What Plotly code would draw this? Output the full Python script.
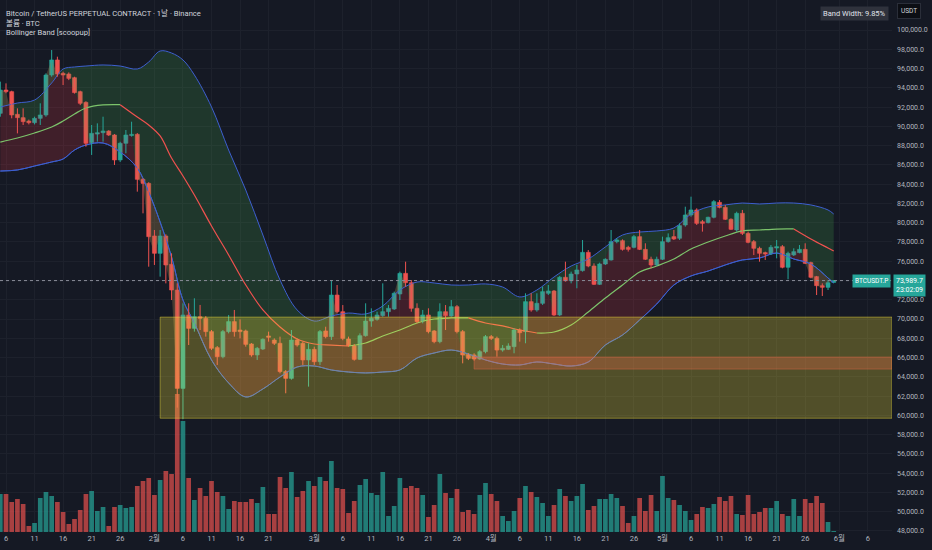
import pandas as pd
import plotly.graph_objects as go

# BTCUSDT.P 일봉, 2026-01-05 ~ 2026-05-31 (차트에서 눈으로 읽은 값)
dates = pd.date_range('2026-01-05', periods=147, freq='D')

opens = [91350, 93770, 93600, 91250, 90900, 90550, 90380, 90830, 91180, 95330,
         96890, 95500, 95430, 95050, 93600, 92490, 88300, 89200, 89340, 89510,
         89100, 86510, 88240, 89050, 89170, 84500, 84080, 78620, 76820, 78620,
         75680, 73010, 62800, 70420, 69030, 70240, 70070, 68690, 67030, 66090,
         68690, 69730, 68860, 68760, 67410, 66270, 66890, 68240, 67820, 67480,
         64540, 63840, 67820, 67480, 65750, 66850, 65570, 68760, 68170, 72490,
         70760, 67930, 67230, 65810, 68270, 69790, 69970, 70350, 70760, 71040,
         72600, 74740, 73770, 71110, 69790, 70420, 68760, 67650, 70760, 70310,
         71280, 68690, 66330, 66270, 65850, 66610, 68170, 67990, 66780, 66850,
         67130, 68860, 68690, 71800, 70940, 71630, 72670, 72910, 70420, 74330,
         73980, 74670, 75020, 76920, 75500, 73600, 75710, 76130, 78030, 78130,
         77440, 77440, 78550, 77230, 76200, 75610, 76200, 78030, 78550, 78380,
         79760, 80800, 81320, 80100, 80000, 80560, 82110, 81590, 80350, 79240,
         80970, 78890, 78030, 77340, 76890, 76750, 77370, 77510, 75370, 76650,
         76890, 77230, 75850, 74400, 73460, 73290, 73800]
highs = [94640, 94460, 93700, 91870, 91870, 90700, 91000, 92390, 95500, 97920,
         97230, 95670, 95600, 95150, 93700, 92600, 90140, 90310, 91000, 89600,
         89200, 88400, 89620, 90480, 89300, 84600, 84200, 79240, 79240, 78800,
         76820, 73700, 71630, 71630, 72150, 71460, 70300, 68860, 67200, 68860,
         70420, 70940, 69970, 68900, 67500, 67100, 67990, 68690, 67990, 68170,
         64700, 68860, 67990, 67650, 67480, 67130, 68860, 69200, 74050, 73530,
         71450, 68170, 67400, 68510, 71630, 71110, 70760, 73700, 71450, 72840,
         74920, 75950, 74050, 71630, 70940, 71110, 68860, 71630, 71450, 71970,
         71450, 68860, 66440, 66440, 66780, 68340, 68340, 68170, 67300, 67480,
         69030, 69030, 72670, 72670, 72670, 73360, 73530, 73010, 74470, 75950,
         74920, 75610, 78200, 77160, 75780, 75850, 76300, 79240, 78370, 78270,
         77600, 78720, 79240, 77860, 76470, 76470, 78550, 78890, 79240, 79930,
         81660, 82700, 81490, 80280, 80620, 82350, 82350, 81840, 80450, 81140,
         81320, 79070, 78200, 77510, 76990, 77680, 78200, 77680, 76990, 77340,
         77680, 77860, 75950, 74470, 73700, 74050, 74050]
lows = [91000, 93430, 90830, 89270, 90140, 90200, 90200, 90140, 91000, 95150,
        95150, 94290, 94800, 93400, 92200, 87890, 87030, 88410, 88410, 89000,
        85990, 86300, 87200, 88930, 83220, 80970, 75430, 75610, 74400, 73700,
        71970, 60800, 59600, 67300, 68690, 68860, 68170, 66780, 65230, 65920,
        68510, 68170, 67990, 67130, 66090, 65750, 66780, 67650, 67300, 64360,
        62290, 63700, 67130, 65230, 62980, 65230, 65230, 68000, 67820, 70590,
        67800, 67130, 65680, 65750, 68170, 69200, 69830, 70240, 70240, 70940,
        71970, 73360, 70760, 69550, 69550, 68510, 67480, 67480, 68860, 70240,
        68510, 65400, 65740, 65680, 65750, 66440, 67820, 66090, 66610, 66780,
        66440, 67650, 67480, 70760, 70760, 71460, 72490, 70310, 70310, 73880,
        73700, 73190, 74920, 75370, 73530, 73530, 75610, 76060, 77860, 77100,
        77000, 77340, 77160, 76130, 75260, 75500, 76130, 77930, 78200, 78200,
        79590, 80620, 79760, 79070, 79930, 80450, 81490, 80280, 79240, 79070,
        78720, 77860, 76640, 75950, 76130, 76650, 76300, 75260, 74120, 76540,
        76820, 75710, 74220, 72490, 72390, 73010, 73750]
closes = [93770, 93600, 91180, 90900, 90490, 90380, 90830, 91180, 95330, 96890,
          95430, 95330, 94980, 93500, 92390, 88240, 89270, 89340, 89510, 89100,
          86510, 88240, 89100, 89170, 84500, 84080, 78550, 76820, 78620, 75610,
          73010, 62800, 70420, 69030, 70240, 70070, 68690, 66960, 66090, 68690,
          69730, 68690, 68690, 67370, 66270, 66960, 67890, 68100, 67480, 64540,
          63840, 67820, 67300, 65750, 66850, 65570, 68690, 68170, 72490, 70760,
          67990, 67230, 65810, 68270, 69790, 70070, 70420, 70760, 71110, 72670,
          74740, 73770, 71110, 69730, 70420, 68690, 67650, 70760, 70350, 71280,
          68690, 66270, 65920, 65850, 66610, 68170, 67990, 66780, 66960, 67200,
          68860, 68580, 71800, 70940, 71630, 72840, 72910, 70420, 74330, 73980,
          74670, 75090, 76920, 75500, 73600, 75710, 76200, 78030, 78200, 77230,
          77230, 78550, 77230, 76200, 75610, 76200, 78030, 78440, 78310, 79690,
          80800, 81320, 79930, 79930, 80560, 82180, 81590, 80350, 79310, 80970,
          78890, 77960, 77340, 76820, 76750, 77440, 77510, 75370, 76820, 76990,
          77230, 75780, 74330, 73460, 73290, 73770, 73990]
# 거래량 (천 BTC)
volume_k = [38, 38, 30, 33, 28, 6, 9, 34, 40, 36,
            30, 20, 8, 13, 22, 38, 41, 21, 25, 6,
            25, 27, 24, 25, 46, 51, 54, 37, 52, 61,
            58, 138, 111, 54, 32, 44, 36, 51, 40, 36,
            23, 31, 30, 30, 33, 29, 45, 18, 18, 55,
            44, 60, 35, 41, 51, 46, 55, 51, 71, 44,
            43, 19, 31, 47, 53, 39, 37, 60, 16, 26,
            54, 44, 46, 44, 37, 15, 27, 58, 39, 34,
            43, 20, 22, 18, 37, 49, 38, 31, 16, 11,
            21, 34, 46, 40, 35, 29, 16, 27, 43, 36,
            31, 36, 48, 22, 26, 33, 33, 38, 34, 26,
            9, 16, 34, 21, 37, 21, 56, 34, 32, 27,
            21, 12, 18, 25, 24, 28, 35, 31, 36, 18,
            17, 37, 18, 20, 24, 24, 31, 18, 16, 33,
            16, 33, 29, 36, 29, 10, 1]

# 볼린저 밴드 (몇 일 간격으로 읽음, 첫 봉 기준 일수)
band_day = [0, 3, 6, 9, 11, 13, 15, 18, 21, 24, 26, 28, 30, 32, 34, 37, 40, 43, 46, 49,
            52, 55, 58, 61, 64, 67, 70, 73, 76, 79, 82, 85, 88, 91, 94, 97, 100, 103, 106,
            109, 112, 115, 118, 121, 124, 127, 130, 133, 136, 139, 142, 145, 146]
bb_upper = [92010, 92420, 92730, 94500, 95950, 96160, 96260, 96370, 96260, 95950,
            96680, 97820, 97610, 96890, 95330, 92010, 87540, 83390, 78720, 74050,
            70940, 69790, 70310, 70620, 70520, 71350, 73010, 73840, 73740, 73530,
            73530, 73640, 73320, 72290, 73010, 74360, 75500, 76230, 77480, 78720,
            79030, 79140, 79450, 80900, 81630, 81840, 82040, 81940, 82040, 82040,
            81840, 81320, 80900]
bb_basis = [88370, 88790, 89310, 89930, 90550, 91280, 91900, 92220, 92250, 90970,
            90140, 89000, 86710, 84850, 82870, 79660, 76650, 73530, 70940, 69170,
            67930, 67410, 67300, 67200, 67510, 68240, 68860, 69590, 70000, 70110,
            70120, 69590, 69280, 68860, 68550, 68650, 69380, 70730, 72180, 73530,
            74880, 75500, 76230, 77270, 77990, 78620, 79140, 79240, 79340, 79350,
            78310, 77370, 77060]
bb_lower = [85360, 85470, 85880, 86300, 86610, 87540, 88060, 88270, 87340, 85670,
            83180, 80070, 76440, 71970, 69590, 65750, 63360, 61910, 62740, 63980,
            65020, 65120, 64710, 64500, 64400, 64500, 64710, 65950, 66470, 66780,
            66370, 65750, 65330, 65230, 65540, 65330, 65120, 65540, 67300, 68340,
            69900, 71560, 73530, 74470, 74980, 75610, 76130, 76330, 76850, 76230,
            75710, 74260, 73740]

tick_dates = ['2026-01-06', '2026-01-11', '2026-01-16', '2026-01-21', '2026-01-26',
              '2026-02-01', '2026-02-06', '2026-02-11', '2026-02-16', '2026-02-21',
              '2026-03-01', '2026-03-06', '2026-03-11', '2026-03-16', '2026-03-21', '2026-03-26',
              '2026-04-01', '2026-04-06', '2026-04-11', '2026-04-16', '2026-04-21', '2026-04-26',
              '2026-05-01', '2026-05-06', '2026-05-11', '2026-05-16', '2026-05-21', '2026-05-26',
              '2026-06-01', '2026-06-06']
tick_text = ['6', '11', '16', '21', '26', '2월', '6', '11', '16', '21',
             '3월', '6', '11', '16', '21', '26', '4월', '6', '11', '16', '21', '26',
             '5월', '6', '11', '16', '21', '26', '6월', '6']
price_ticks = list(range(48000, 100001, 2000))

last_price = 73989.7

BG = '#151924'
UP = '#26a69a'
DOWN = '#ef5350'
GRID = '#1d212c'
BAND = '#3d5fd0'
FONT = 'Roboto, Noto Sans CJK KR, sans-serif'
DAY_MS = 86400000

band_x = dates[band_day]
is_up = [c >= o for o, c in zip(opens, closes)]

fig = go.Figure()

# volume on the hidden base axis
vol_colors = ['rgba(38,166,154,0.7)' if u else 'rgba(239,83,80,0.68)' for u in is_up]
fig.add_trace(go.Bar(x=dates, y=volume_k, marker_color=vol_colors, marker_line_width=0,
                     width=0.82 * DAY_MS, yaxis='y', hoverinfo='skip'))

# band fills: close -> lower (red), upper -> close (green)
fig.add_trace(go.Scatter(x=band_x, y=bb_lower, mode='lines', line=dict(color=BAND, width=1, shape='spline'),
                         yaxis='y2', hoverinfo='skip'))
fig.add_trace(go.Scatter(x=dates, y=closes, mode='lines', line=dict(width=0), fill='tonexty',
                         fillcolor='rgba(242,54,69,0.2)', yaxis='y2', hoverinfo='skip'))
fig.add_trace(go.Scatter(x=band_x, y=bb_upper, mode='lines', line=dict(color=BAND, width=1, shape='spline'),
                         fill='tonexty', fillcolor='rgba(76,175,80,0.2)', yaxis='y2', hoverinfo='skip'))
fig.add_trace(go.Scatter(x=band_x, y=bb_lower, mode='lines', line=dict(color=BAND, width=1, shape='spline'),
                         yaxis='y2', hoverinfo='skip'))

# basis line, green while rising / red while falling
runs = []
start = 0
for i in range(1, len(bb_basis) - 1):
    up_prev = bb_basis[i] >= bb_basis[i - 1]
    up_next = bb_basis[i + 1] >= bb_basis[i]
    if up_prev != up_next:
        runs.append((start, i, up_prev))
        start = i
runs.append((start, len(bb_basis) - 1, bb_basis[-1] >= bb_basis[-2]))
for s, e, up in runs:
    fig.add_trace(go.Scatter(x=band_x[s:e + 1], y=bb_basis[s:e + 1], mode='lines',
                             line=dict(color='#7cc46b' if up else '#f0514f', width=1.2, shape='spline'),
                             yaxis='y2', hoverinfo='skip'))

# candles: wicks + bodies
for flag, col in ((True, UP), (False, DOWN)):
    wx, wy = [], []
    bx, bbase, bh = [], [], []
    for d, o, h, l, c, u in zip(dates, opens, highs, lows, closes, is_up):
        if u != flag:
            continue
        wx += [d, d, None]
        wy += [l, h, None]
        bx.append(d)
        bbase.append(min(o, c))
        bh.append(abs(c - o))
    fig.add_trace(go.Scatter(x=wx, y=wy, mode='lines', line=dict(color=col, width=1),
                             yaxis='y2', hoverinfo='skip', connectgaps=False))
    fig.add_trace(go.Bar(x=bx, y=bh, base=bbase, width=0.7 * DAY_MS, marker_color=col,
                         marker_line=dict(color=col, width=0.6), yaxis='y2', hoverinfo='skip'))

x_start = '2026-01-04 22:45'
x_end = '2026-06-10 05:00'

# drawn zones
fig.add_shape(type='rect', xref='x', yref='y2', x0='2026-02-02', x1=x_end, y0=59700, y1=70200,
              fillcolor='rgba(255,235,59,0.26)', line=dict(color='rgba(255,235,59,0.4)', width=1), layer='above')
fig.add_shape(type='rect', xref='x', yref='y2', x0='2026-03-29', x1=x_end, y0=64800, y1=66050,
              fillcolor='rgba(240,105,75,0.3)', line=dict(color='rgba(240,105,75,0.4)', width=1), layer='above')
# last price line
fig.add_shape(type='line', xref='paper', yref='y2', x0=0, x1=1, y0=last_price, y1=last_price,
              line=dict(color='#8a8e99', width=1, dash='dot'), layer='above')

head = dict(xref='paper', yref='paper', x=0.0045, xanchor='left', yanchor='middle', showarrow=False,
            font=dict(family=FONT, size=7.6, color='#d1d4dc'))
fig.add_annotation(text='Bitcoin / TetherUS PERPETUAL CONTRACT · 1날 · Binance', y=1 - 13 / 532, **head)
fig.add_annotation(text='볼륨 · BTC', y=1 - 23 / 532, **head)
fig.add_annotation(text='Bollinger Band [scoopup]', y=1 - 33 / 532, **head)

fig.add_annotation(text='Band Width: 9.85%', xref='paper', yref='paper', x=889 / 892, y=1 - 14 / 532,
                   xanchor='right', yanchor='middle', showarrow=False, bgcolor='#2f323c', borderpad=2,
                   font=dict(family=FONT, size=7.5, color='#e0e3eb'))
fig.add_annotation(text='USDT', xref='paper', yref='paper', x=897 / 892, y=1 - 11 / 532,
                   xanchor='left', yanchor='middle', showarrow=False, bgcolor='#0c0e14',
                   bordercolor='#2a2e39', borderwidth=1, borderpad=3,
                   font=dict(family=FONT, size=6.5, color='#d1d4dc'))
fig.add_annotation(text='BTCUSDT.P', xref='paper', yref='y2', x=891 / 892, y=last_price,
                   xanchor='right', yanchor='middle', showarrow=False, bgcolor=UP, borderpad=2,
                   font=dict(family=FONT, size=6.5, color='white'))
fig.add_annotation(text=f'{last_price:,.1f}<br>23:02:09', xref='paper', yref='y2', x=893 / 892, y=last_price,
                   xanchor='left', yanchor='top', yshift=7, showarrow=False, bgcolor=UP, borderpad=2,
                   align='left', font=dict(family=FONT, size=7, color='white'))

fig.update_layout(
    width=932, height=550,
    margin=dict(l=0, r=40, t=0, b=18),
    paper_bgcolor=BG, plot_bgcolor=BG,
    showlegend=False, barmode='overlay',
    font=dict(family=FONT, color='#b2b5be'),
    xaxis=dict(type='date', range=[x_start, x_end], tickvals=tick_dates, ticktext=tick_text,
               showgrid=True, gridcolor=GRID, zeroline=False, showline=False, ticks='',
               tickfont=dict(size=7.5, color='#b2b5be'), fixedrange=True),
    yaxis=dict(range=[0, 532], visible=False, fixedrange=True),
    yaxis2=dict(overlaying='y', side='right', range=[47892, 103114], tickvals=price_ticks,
                tickformat=',.1f', showgrid=True, gridcolor=GRID, zeroline=False, showline=False,
                ticks='', ticklabelstandoff=4, tickfont=dict(size=7, color='#b2b5be'), fixedrange=True),
)

fig.write_html('out.html', config={'displayModeBar': False},
               post_script="document.body.style.margin='0';document.body.style.overflow='hidden';")
